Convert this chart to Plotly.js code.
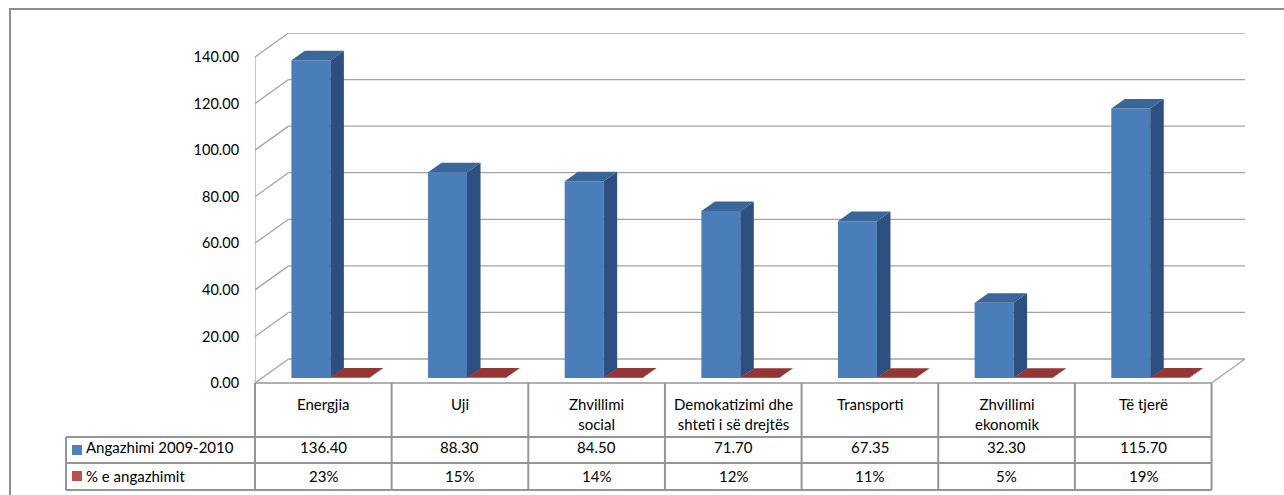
<!DOCTYPE html>
<html>
<head>
<meta charset="utf-8">
<script src="https://cdn.plot.ly/plotly-3.0.1.min.js"></script>
<style>html,body{margin:0;padding:0;background:#fff;}#chart{width:1284px;height:495px;}</style>
</head>
<body>
<div id="chart"></div>
<script>
// ---- data ----
const categories = ['Energjia', 'Uji', 'Zhvillimi<br>social', 'Demokatizimi dhe<br>shteti i së drejtës', 'Transporti', 'Zhvillimi<br>ekonomik', 'Të tjerë'];
const angazhimi = [136.40, 88.30, 84.50, 71.70, 67.35, 32.30, 115.70];
const perqindja = [0.23, 0.15, 0.14, 0.12, 0.11, 0.05, 0.19];
const seriesNames = ['Angazhimi 2009-2010', '% e angazhimit'];
const yTicks = [0, 20, 40, 60, 80, 100, 120, 140];

// ---- geometry (styles / layout) ----
const W = 1284, H = 495;
const L = 255, R = 39, T = 33, B = 112;          // plot area = 3D box
const pw = W - L - R, ph = H - T - B;
const dX = 0.245, dY = 10.3;                     // wall depth (data units)
const xr = [-0.5, 6.5 + dX];
const yr = [0, 140 + dY];
const f = 0.21;                                  // bar depth position
const bw = 0.285;                                // bar width
const ddx = 0.099, ddy = 4.1;                    // bar depth
const font = 'Lato, "Open Sans", sans-serif';
const gridC = '#a3a3a3', tblC = '#959595';
const colBlue = {front: '#4A7EBB', side: '#2D5080', top: '#3B6699'};
const colRed = {front: '#943634', side: '#6E2624', top: '#943634'};

const pxX = px => (px - L) / pw;
const pxY = py => (H - B - py) / ph;
const dataPX = x => (x - xr[0]) / (xr[1] - xr[0]);

const n = categories.length;
const idx = categories.map((_, i) => i);
const base = f * dY, shift = f * dX;

function faces(vals, offset) {
  const side = {x: [], y: []}, top = {x: [], y: []};
  vals.forEach((v, i) => {
    const x0 = i + offset + shift, x1 = x0 + bw, y0 = base, y1 = base + v;
    side.x.push(x1, x1 + ddx, x1 + ddx, x1, x1, null);
    side.y.push(y0, y0 + ddy, y1 + ddy, y1, y0, null);
    top.x.push(x0, x1, x1 + ddx, x0 + ddx, x0, null);
    top.y.push(y1, y1, y1 + ddy, y1 + ddy, y1, null);
  });
  return {side, top};
}

const traces = [];
const series = [{vals: angazhimi, off: -bw, col: colBlue, name: seriesNames[0]},
                {vals: perqindja, off: 0, col: colRed, name: seriesNames[1]}];
series.forEach(s => {
  traces.push({type: 'bar', x: idx.map(i => i + s.off + shift + bw / 2), y: s.vals,
    base: base, width: bw, marker: {color: s.col.front, line: {width: 0}},
    name: s.name, showlegend: false, hoverinfo: 'skip'});
});
series.forEach(s => {
  const fc = faces(s.vals, s.off);
  traces.push({type: 'scatter', x: fc.side.x, y: fc.side.y, mode: 'none', fill: 'toself',
    fillcolor: s.col.side, showlegend: false, hoverinfo: 'skip'});
  traces.push({type: 'scatter', x: fc.top.x, y: fc.top.y, mode: 'none', fill: 'toself',
    fillcolor: s.col.top, showlegend: false, hoverinfo: 'skip'});
});

const shapes = [];
// walls: back gridlines + left wall diagonals
yTicks.forEach(v => {
  shapes.push({type: 'line', xref: 'x', yref: 'y', x0: -0.5 + dX, x1: 6.5 + dX, y0: v + dY, y1: v + dY,
    line: {color: gridC, width: 1.3}, layer: 'below'});
  shapes.push({type: 'line', xref: 'x', yref: 'y', x0: -0.5, x1: -0.5 + dX, y0: v, y1: v + dY,
    line: {color: gridC, width: 1.3}, layer: 'below'});
});
shapes.push({type: 'line', xref: 'x', yref: 'y', x0: -0.5, x1: -0.5, y0: 0, y1: 140,
  line: {color: gridC, width: 1.3}, layer: 'below'});
shapes.push({type: 'line', xref: 'x', yref: 'y', x0: 6.5, x1: 6.5 + dX, y0: 0, y1: dY,
  line: {color: gridC, width: 1.3}, layer: 'below'});

// table
const rowY = [383, 437, 463, 490];
const labelLeft = 66;
const colX = [];
for (let i = 0; i <= n; i++) colX.push(dataPX(i - 0.5));
shapes.push({type: 'line', xref: 'paper', yref: 'paper', x0: colX[0], x1: colX[n], y0: pxY(rowY[0]), y1: pxY(rowY[0]),
  line: {color: tblC, width: 1.5}});
for (let r = 1; r < rowY.length; r++) {
  shapes.push({type: 'line', xref: 'paper', yref: 'paper', x0: pxX(labelLeft), x1: colX[n], y0: pxY(rowY[r]), y1: pxY(rowY[r]),
    line: {color: tblC, width: 2}});
}
colX.forEach(cx => {
  shapes.push({type: 'line', xref: 'paper', yref: 'paper', x0: cx, x1: cx, y0: pxY(rowY[0]), y1: pxY(rowY[3]),
    line: {color: tblC, width: 2}});
});
shapes.push({type: 'line', xref: 'paper', yref: 'paper', x0: pxX(labelLeft), x1: pxX(labelLeft), y0: pxY(rowY[1]), y1: pxY(rowY[3]),
  line: {color: tblC, width: 2}});
// legend keys
[{c: '#4F81BD', y: rowY[1]}, {c: '#C0504D', y: rowY[2]}].forEach(k => {
  const cy = (k.y + k.y + 26) / 2;
  shapes.push({type: 'rect', xref: 'paper', yref: 'paper', x0: pxX(72), x1: pxX(82), y0: pxY(cy - 5), y1: pxY(cy + 5),
    fillcolor: k.c, line: {width: 0}});
});
// outer border
shapes.push({type: 'rect', xref: 'paper', yref: 'paper', x0: pxX(10), x1: pxX(1300), y0: pxY(9), y1: pxY(520),
  line: {color: '#8e8e8e', width: 2}, fillcolor: 'rgba(0,0,0,0)'});

const annotations = [];
const tf = {family: font, size: 15, color: '#000'};
const yf = {family: font, size: 14.5, color: '#000'};
categories.forEach((c, i) => {
  annotations.push({xref: 'x', yref: 'paper', x: i, y: pxY(393), yanchor: 'top', xanchor: 'center',
    text: c, showarrow: false, font: tf, align: 'center'});
  annotations.push({xref: 'x', yref: 'paper', x: i, y: pxY(447), yanchor: 'middle', xanchor: 'center',
    text: angazhimi[i].toFixed(2), showarrow: false, font: tf});
  annotations.push({xref: 'x', yref: 'paper', x: i, y: pxY(476), yanchor: 'middle', xanchor: 'center',
    text: Math.round(perqindja[i] * 100) + '%', showarrow: false, font: tf});
});
seriesNames.forEach((s, r) => {
  annotations.push({xref: 'paper', yref: 'paper', x: pxX(84), y: pxY(r === 0 ? 447 : 476), xanchor: 'left', yanchor: 'middle',
    text: s, showarrow: false, font: tf});
});

const layout = {
  width: W, height: H,
  margin: {l: L, r: R, t: T, b: B, pad: 0},
  paper_bgcolor: '#fff', plot_bgcolor: 'rgba(0,0,0,0)',
  showlegend: false,
  barmode: 'overlay',
  xaxis: {range: xr, showgrid: false, zeroline: false, showticklabels: false, ticks: '', showline: false, fixedrange: true},
  yaxis: {range: yr, showgrid: false, zeroline: false, tickvals: yTicks, tickformat: '.2f', ticks: 'outside',
    ticklen: 12, tickcolor: 'rgba(0,0,0,0)', showline: false, tickfont: yf, fixedrange: true},
  shapes: shapes,
  annotations: annotations
};

Plotly.newPlot('chart', traces, layout, {staticPlot: true, displayModeBar: false});
</script>
</body>
</html>
